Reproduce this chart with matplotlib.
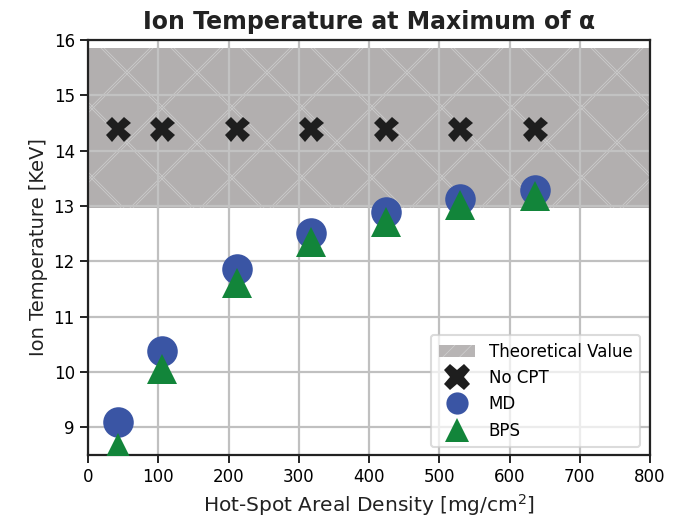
import matplotlib
matplotlib.use("Agg")
import matplotlib.pyplot as plt
import matplotlib.transforms as mtransforms
from matplotlib.lines import Line2D
from matplotlib.patches import Patch
import numpy as np

rho = [42.4, 106, 212, 318, 424, 530, 636]
no_cpt = [14.4, 14.4, 14.4, 14.4, 14.4, 14.4, 14.4]
md = [9.09, 10.38, 11.86, 12.51, 12.89, 13.12, 13.29]
bps = [8.62, 10.05, 11.60, 12.35, 12.71, 13.02, 13.18]
theory_low, theory_high = 12.97, 15.85

plt.rcParams['font.family'] = ['DejaVu Sans']
plt.rcParams['hatch.color'] = '#d0d0d0'
plt.rcParams['hatch.linewidth'] = 0.5

W, H = 680, 530
fig = plt.figure(figsize=(W/100, H/100), dpi=100)
ax_l, ax_r, ax_t, ax_b = 88, 650, 40, 455
ax = fig.add_axes([ax_l/W, 1-ax_b/H, (ax_r-ax_l)/W, (ax_b-ax_t)/H])
aw, ah = ax_r-ax_l, ax_b-ax_t

ax.set_xlim(0, 800)
ax.set_ylim(8.5, 16)
ax.grid(True, color='#c0c0c0', lw=1.6, zorder=0)
ax.set_axisbelow(True)

span = ax.axhspan(theory_low, theory_high, facecolor='#b2afaf', edgecolor='none',
                  linewidth=0, zorder=1)

# decorative diagonal hatch (pixel-spaced), clipped to the band
ptrans = mtransforms.Affine2D().scale(1/aw, 1/ah) + ax.transAxes
P = 70
for c in np.arange(-ah - P, aw + P, P):
    for d in (0, 3):
        ln, = ax.plot([c + d, c + d + ah], [0, ah], color='#cbcbcb', lw=0.6,
                      transform=ptrans, zorder=1.2)
        ln.set_clip_path(span)
        ln2, = ax.plot([c + d, c + d + ah], [ah, 0], color='#cbcbcb', lw=0.6,
                       transform=ptrans, zorder=1.2)
        ln2.set_clip_path(span)

# grid over the band
for xv in range(100, 800, 100):
    ax.plot([xv, xv], [theory_low, theory_high], color='#c2c2c2', lw=1.6, zorder=1.5)
for yv in range(13, 16):
    ax.plot([0, 800], [yv, yv], color='#c2c2c2', lw=1.6, zorder=1.5)

c_x, c_md, c_bps = '#1e1e1e', '#3a55a4', '#12853a'
ax.plot(rho, no_cpt, 'X', color=c_x, ms=18, mew=0, ls='none', zorder=3)
ax.plot(rho, md, 'o', color=c_md, ms=22, mew=0, ls='none', zorder=3)
ax.plot(rho, bps, '^', color=c_bps, ms=22, mew=0, ls='none', zorder=4)

for s in ax.spines.values():
    s.set_linewidth(1.6)
    s.set_color('#222222')
ax.tick_params(direction='out', length=6, width=1.4, labelsize=12, color='#222222')
ax.set_xticks(range(0, 801, 100))
ax.set_yticks(range(9, 17))

ax.set_xlabel('Hot-Spot Areal Density [mg/cm$^2$]', fontsize=14.5, color='#222222')
ax.set_ylabel('Ion Temperature [KeV]', fontsize=14, color='#222222')
ax.set_title('Ion Temperature at Maximum of α', fontsize=17, fontweight='bold',
             color='#222222', pad=8)

handles = [
    Patch(facecolor='#b8b5b5', edgecolor='#d0d0d0', hatch='//', linewidth=0),
    Line2D([], [], marker='X', color=c_x, ms=19, mew=0, ls='none'),
    Line2D([], [], marker='o', color=c_md, ms=16, mew=0, ls='none'),
    Line2D([], [], marker='^', color=c_bps, ms=17, mew=0, ls='none'),
]
labels = ['Theoretical Value', 'No CPT', 'MD', 'BPS']
leg = ax.legend(handles, labels, loc='lower right', fontsize=12, framealpha=0.7,
                fancybox=True, borderpad=0.45, labelspacing=0.5, handlelength=2.2,
                borderaxespad=0, bbox_to_anchor=(0.982, 0.019))
leg.get_frame().set_edgecolor('#cccccc')
leg.get_frame().set_linewidth(1.5)

fig.savefig('out.png', dpi=100)
